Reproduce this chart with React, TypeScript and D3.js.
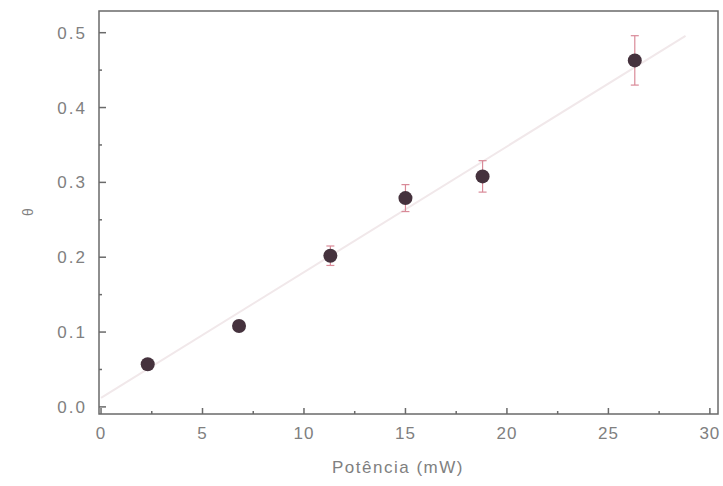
import React from "react";
import * as d3 from "d3";

const xValues = [2.3, 6.8, 11.3, 15.0, 18.8, 26.3];
const yValues = [0.057, 0.108, 0.202, 0.279, 0.308, 0.463];
const yErrors = [0.004, 0.005, 0.013, 0.018, 0.021, 0.033];
const xTicks = [0, 5, 10, 15, 20, 25, 30];
const yTicks = [0.0, 0.1, 0.2, 0.3, 0.4, 0.5];
const fitX = [0, 28.8];
const fitSlope = 0.0168;
const fitIntercept = 0.012;

export default function App() {
  const W = 723, H = 486;
  const left = 99, right = 718, top = 11, bottom = 414;
  const x = d3.scaleLinear().domain([-0.1, 30.4]).range([left, right]);
  const y = d3.scaleLinear().domain([-0.0095, 0.529]).range([bottom, top]);
  const axisColor = "#6a6a6a";
  const textColor = "#808080";
  const font = "Liberation Sans, Arial, sans-serif";
  const xMinor = d3.range(0, 30, 2.5).filter(v => v % 5 !== 0);
  const yMinor = d3.range(0.05, 0.5, 0.1);
  const line = d3.line<number>().x(v => x(v)).y(v => y(fitIntercept + fitSlope * v));
  return (
    <svg width={W} height={H} style={{ position: "absolute", left: 0, top: 0 }}>
      <rect width={W} height={H} fill="#fff" />
      <path d={line(fitX) || ""} stroke="#f1e8ea" strokeWidth={2} fill="none" />
      {xValues.map((v, i) => (
        <g key={i}>
          {yErrors[i] > 0.008 && (
            <g stroke="#d98a98" strokeWidth={1.2}>
              <line x1={x(v)} x2={x(v)} y1={y(yValues[i] - yErrors[i])} y2={y(yValues[i] + yErrors[i])} />
              <line x1={x(v) - 4} x2={x(v) + 4} y1={y(yValues[i] - yErrors[i])} y2={y(yValues[i] - yErrors[i])} />
              <line x1={x(v) - 4} x2={x(v) + 4} y1={y(yValues[i] + yErrors[i])} y2={y(yValues[i] + yErrors[i])} />
            </g>
          )}
          <circle cx={x(v)} cy={y(yValues[i])} r={7} fill="#45323d" />
        </g>
      ))}
      <rect x={left} y={top} width={right - left} height={bottom - top} fill="none" stroke={axisColor} strokeWidth={1.5} />
      {xTicks.map(t => (
        <g key={"xt" + t}>
          <line x1={x(t)} x2={x(t)} y1={bottom} y2={bottom - 6} stroke={axisColor} strokeWidth={1.5} />
          <text x={x(t)} y={bottom + 25} textAnchor="middle" fontSize={17} fill={textColor} fontFamily={font} letterSpacing={1}>{t}</text>
        </g>
      ))}
      {xMinor.map(t => (
        <line key={"xm" + t} x1={x(t)} x2={x(t)} y1={bottom} y2={bottom - 3} stroke={axisColor} strokeWidth={1.5} />
      ))}
      {yTicks.map(t => (
        <g key={"yt" + t}>
          <line x1={left} x2={left + 7} y1={y(t)} y2={y(t)} stroke={axisColor} strokeWidth={1.5} />
          <text x={left - 12} y={y(t) + 6} textAnchor="end" fontSize={17} fill={textColor} fontFamily={font} letterSpacing={2}>{t.toFixed(1)}</text>
        </g>
      ))}
      {yMinor.map(t => (
        <line key={"ym" + t} x1={left} x2={left + 3} y1={y(t)} y2={y(t)} stroke={axisColor} strokeWidth={1.5} />
      ))}
      <text x={398} y={473} textAnchor="middle" fontSize={17} fill={textColor} fontFamily={font} letterSpacing={1.5}>Potência (mW)</text>
      <text transform="translate(33,212) rotate(-90)" textAnchor="middle" fontSize={14} fill={textColor} fontFamily={font}>θ</text>
    </svg>
  );
}
